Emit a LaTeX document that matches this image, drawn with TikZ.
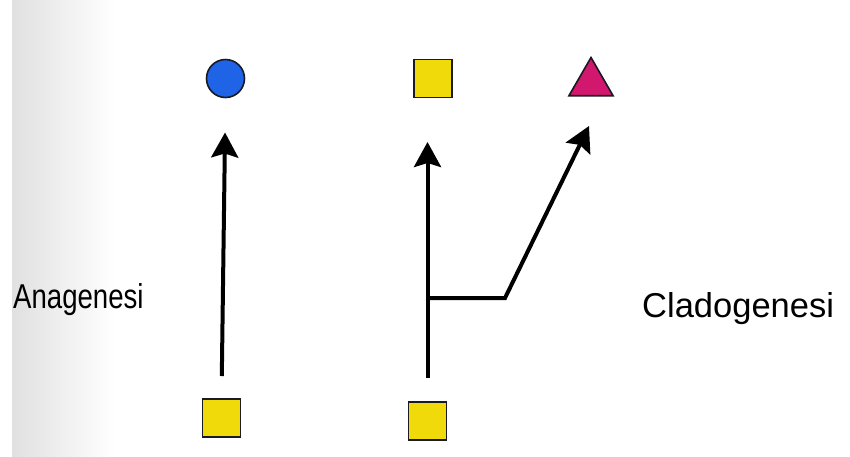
\documentclass[tikz,border=0pt]{standalone}
\usepackage{fontspec}
\setmainfont{Liberation Sans}
\usetikzlibrary{arrows.meta,shapes.geometric}

\definecolor{dotblue}{HTML}{1F63E6}
\definecolor{boxyellow}{HTML}{F0DA0A}
\definecolor{trimagenta}{HTML}{D2176F}
\definecolor{edgeink}{HTML}{1A1A22}

\tikzset{
  shapeline/.style={draw=edgeink, line width=1.6pt, inner sep=0pt, outer sep=0pt},
  ybox/.style={shapeline, fill=boxyellow, minimum size=38pt},
  bluedot/.style={shapeline, circle, fill=dotblue, minimum size=38pt},
  magtri/.style={shapeline, regular polygon, regular polygon sides=3, fill=trimagenta, minimum size=51pt},
  branch/.style={draw=black, line width=4pt},
  arr/.style={branch, -{Stealth[length=25pt,width=27pt,inset=4pt]}},
  label/.style={font=\fontsize{34.5}{40}\selectfont, inner sep=0pt, anchor=base west}
}

\begin{document}
\begin{tikzpicture}[x=1pt,y=-1pt]
  \useasboundingbox (0,0) rectangle (850,456);
  \fill[white] (0,0) rectangle (850,456);
  % shadow of the page gutter
  \shade[left color=black!12, right color=white] (12,0) rectangle (115,456);

  % descendants (top row)
  \node[bluedot] (circ) at (225.5,78.5) {};
  \node[ybox] (sqT) at (433,78.5) {};
  \node[magtri] (tri) at (591,83) {};

  % ancestors (bottom row)
  \node[ybox] (sqL) at (221.5,418) {};
  \node[ybox] (sqR) at (427.5,421) {};

  % anagenesis: one lineage changes
  \draw[arr, shorten <=23pt, shorten >=35pt] (sqL.north) -- (circ.south);

  % cladogenesis: the lineage splits
  \coordinate (midTip) at (sqR.north |- 0,142);
  \draw[arr, shorten <=24pt] (sqR.north) -- (midTip);
  \coordinate (fork) at (sqR.north |- 0,298);
  \coordinate (knee) at (505,298);
  \coordinate (sideTip) at (589,126);
  \draw[arr] (fork) -- (knee) -- (sideTip);

  % labels
  \node[label, xscale=0.8] (ana) at (13,308) {Anagenesi};
  \node[label] (clado) at (642,317) {Cladogenesi};
\end{tikzpicture}
\end{document}
